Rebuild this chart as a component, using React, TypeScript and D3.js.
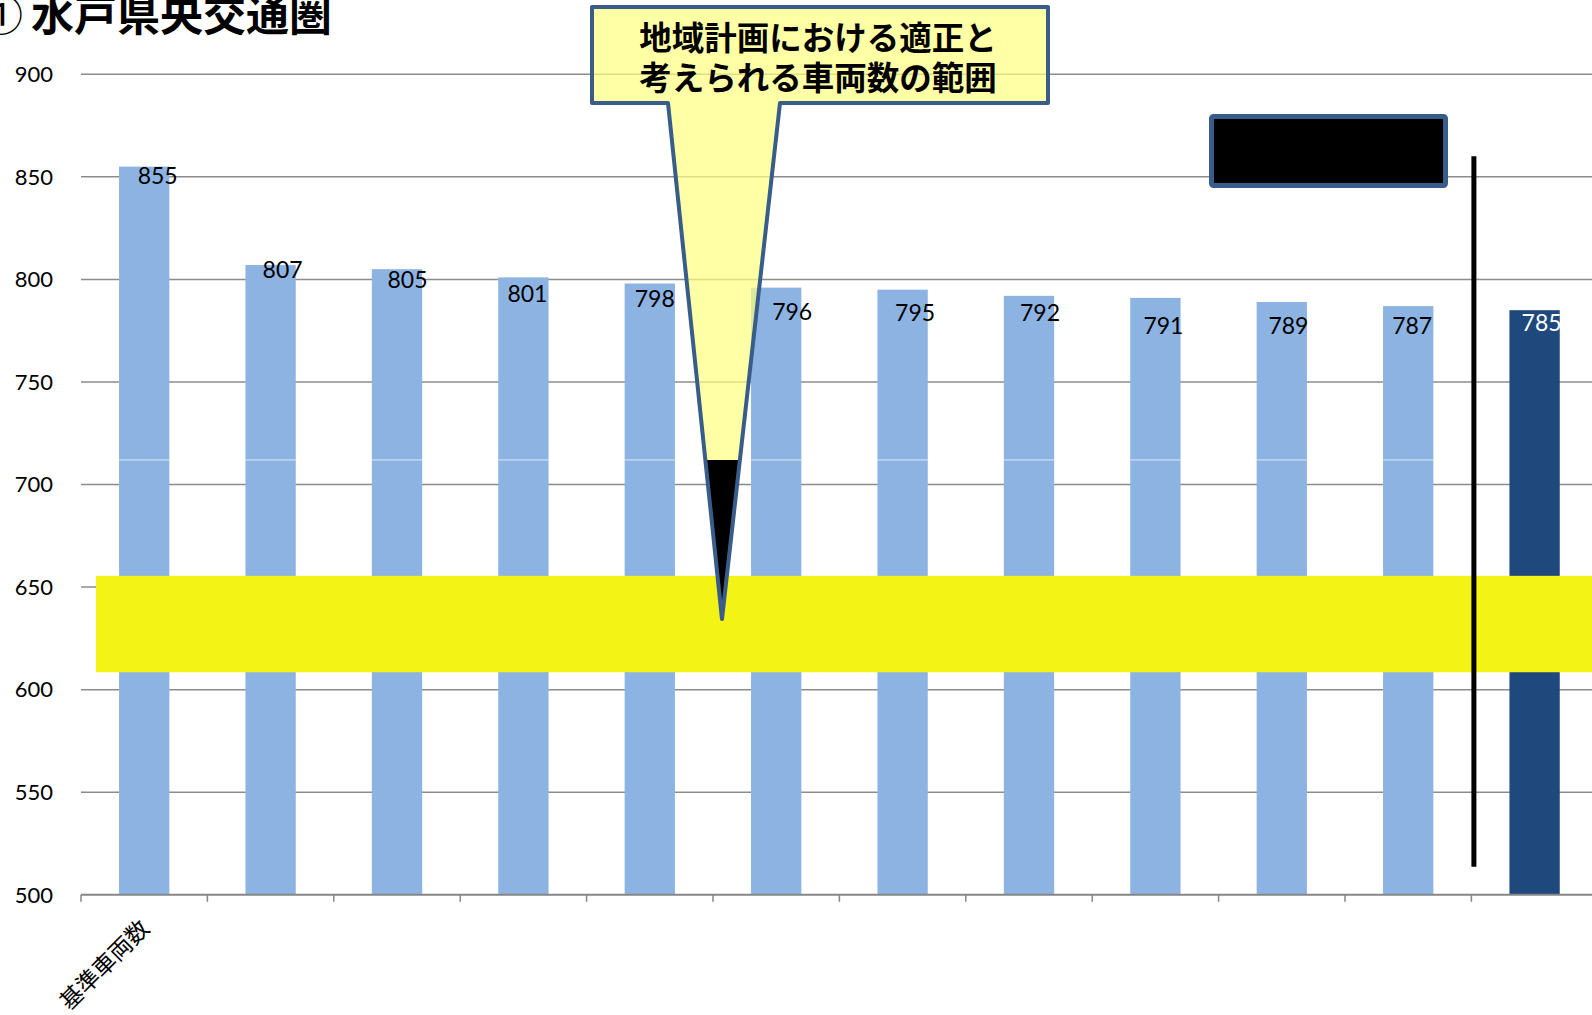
import React from "react";
import * as d3 from "d3";

// ---- data ----
const categories = ["基準車両数", "", "", "", "", "", "", "", "", "", "", ""];
const values = [855, 807, 805, 801, 798, 796, 795, 792, 791, 789, 787, 785];
const highlightIndex = 11;
const yTicks = [500, 550, 600, 650, 700, 750, 800, 850, 900];
const appropriateRange = [608.5, 655.5];
const titleMark = "①";
const title = "水戸県央交通圏";
const calloutLines = ["地域計画における適正と", "考えられる車両数の範囲"];

// ---- layout (label nudges in px, relative to bar center / bar top) ----
const labelNudge: [number, number][] = [
  [13.5, 9], [12, 5], [10.5, 11], [4, 16], [5, 15.5], [16, 24.5],
  [12.5, 23], [11, 17], [8, 28], [6.6, 24], [4, 20], [7, 13],
];

const W = 1592;
const H = 1015;
const left = 81;
const step = 126.4;
const yTop = 74.3;
const yBottom = 894.8;

export default function App() {
  const idx = values.map((_, i) => i);
  const x = d3
    .scaleBand<number>()
    .domain(idx)
    .range([left, left + step * values.length])
    .padding(0);
  const y = d3.scaleLinear().domain([500, 900]).range([yBottom, yTop]);
  const bw = x.bandwidth() * 0.398;
  const barX = (i: number) => (x(i) as number) + (x.bandwidth() - bw) / 2;

  const numFont = "Lato, 'Open Sans', sans-serif";
  const cjkFont = "'Noto Sans CJK JP', 'Noto Sans', sans-serif";

  // callout geometry
  const box = { x0: 592, y0: 7, x1: 1048, y1: 103 };
  const baseL = 668;
  const baseR = 780;
  const tip = { x: 722, y: 619 };
  const splitY = y(712);
  const lerpX = (xa: number, ya: number, xb: number, yb: number, yy: number) =>
    xa + ((xb - xa) * (yy - ya)) / (yb - ya);
  const sL = lerpX(baseL, box.y1, tip.x, tip.y, splitY);
  const sR = lerpX(baseR, box.y1, tip.x, tip.y, splitY);
  const calloutPath = `M${box.x0},${box.y0} H${box.x1} V${box.y1} H${baseR} L${tip.x},${tip.y} L${baseL},${box.y1} H${box.x0} Z`;

  const sepX = (x(11) as number) + 2.5;

  return (
    <svg
      width={W}
      height={H}
      style={{ position: "absolute", top: 0, left: 0, display: "block", background: "#fff" }}
    >
      <rect x={0} y={0} width={W} height={H} fill="#fff" />
      {/* title */}
      <text x={23} y={30.5} textAnchor="end" fontFamily={cjkFont} fontSize={43} fontWeight={400} fill="#000">
        {titleMark}
      </text>
      <text x={31} y={30.5} fontFamily={cjkFont} fontSize={43} fontWeight={700} fill="#000">
        {title}
      </text>

      {/* gridlines */}
      {yTicks.slice(1).map((t) => (
        <line key={t} x1={left} x2={W} y1={y(t)} y2={y(t)} stroke="#8c8c8c" strokeWidth={1.5} />
      ))}
      {/* y tick labels */}
      {yTicks.map((t) => (
        <text key={t} x={53} y={y(t) + 7.8} textAnchor="end" fontFamily={numFont} fontSize={22} fill="#000">
          {t}
        </text>
      ))}

      {/* bars */}
      {values.map((v, i) => (
        <rect
          key={i}
          x={barX(i)}
          y={y(v)}
          width={bw}
          height={y(500) - y(v)}
          fill={i === highlightIndex ? "#1f497d" : "#8db3e2"}
        />
      ))}
      {/* faint white line across the light bars */}
      {values.map((v, i) =>
        i === highlightIndex ? null : (
          <line key={i} x1={barX(i)} x2={barX(i) + bw} y1={splitY} y2={splitY} stroke="#fff" strokeOpacity={0.7} strokeWidth={1} />
        )
      )}

      {/* axis */}
      <line x1={left} x2={W} y1={yBottom} y2={yBottom} stroke="#868686" strokeWidth={2} />
      {d3.range(values.length + 1).map((i) => (
        <line key={i} x1={left + i * step} x2={left + i * step} y1={yBottom} y2={yBottom + 7} stroke="#868686" strokeWidth={1.5} />
      ))}
      {categories.map((c, i) =>
        c ? (
          <text
            key={i}
            transform={`translate(${(x(i) as number) + x.bandwidth() / 2 + 6.5},${930}) rotate(-45)`}
            textAnchor="end"
            fontFamily={cjkFont}
            fontSize={23}
            fill="#000"
          >
            {c}
          </text>
        ) : null
      )}

      {/* data labels */}
      {values.map((v, i) => (
        <text
          key={i}
          x={(x(i) as number) + x.bandwidth() / 2 + labelNudge[i][0]}
          y={y(v) + labelNudge[i][1] + 8.2}
          textAnchor="middle"
          fontFamily={numFont}
          fontSize={23}
          fill={i === highlightIndex ? "#fff" : "#000"}
        >
          {v}
        </text>
      ))}

      {/* appropriate range band */}
      <rect
        x={96}
        y={y(appropriateRange[1])}
        width={W - 96}
        height={y(appropriateRange[0]) - y(appropriateRange[1])}
        fill="#f3f316"
      />

      {/* separator line */}
      <line x1={sepX} x2={sepX} y1={y(860)} y2={y(513.7)} stroke="#000" strokeWidth={5} />

      {/* callout */}
      <path d={calloutPath} fill="#ffff80" fillOpacity={0.7} stroke="none" />
      <polygon points={`${sL},${splitY} ${sR},${splitY} ${tip.x},${tip.y}`} fill="#000" />
      <path d={calloutPath} fill="none" stroke="#385d8a" strokeWidth={4} strokeLinejoin="round" />
      {calloutLines.map((l, i) => (
        <text
          key={i}
          x={(box.x0 + box.x1) / 2 - 2}
          y={49.5 + i * 40.5}
          textAnchor="middle"
          fontFamily={cjkFont}
          fontSize={32.5}
          fontWeight={700}
          fill="#000"
        >
          {l}
        </text>
      ))}

      {/* redacted box */}
      <rect x={1211.5} y={116.5} width={234} height={69} rx={2} fill="#000" stroke="#385d8a" strokeWidth={5} />
    </svg>
  );
}
